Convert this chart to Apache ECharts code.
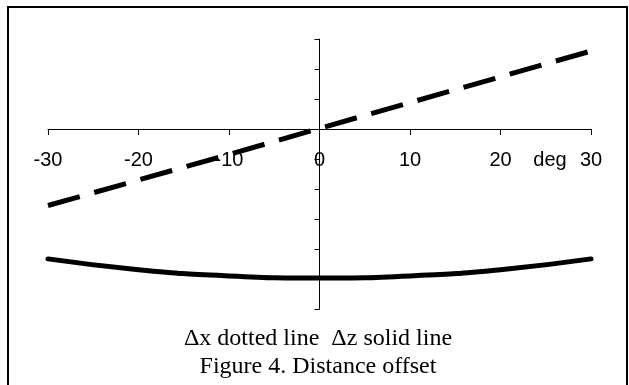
<!DOCTYPE html>
<html>
<head>
<meta charset="utf-8">
<style>
  html, body { margin: 0; padding: 0; background: #fff; }
  #chart { width: 629px; height: 385px; }
</style>
<script src="https://cdn.jsdelivr.net/npm/echarts@6/dist/echarts.min.js"></script>
</head>
<body>
<div id="chart"></div>
<script>
// angle in degrees
const angles = [-30, -20, -10, 0, 10, 20, 30];
// Δx (dashed) and Δz (solid)
const dxValues = [-2.55, -1.7, -0.85, 0.02, 0.88, 1.74, 2.6];
const dzValues = [-4.33, -4.69, -4.9, -4.97, -4.9, -4.69, -4.33];

const toPairs = (xs, ys) => xs.map((x, i) => [x, ys[i]]);

let myChart = echarts.init(document.getElementById('chart'));
myChart.setOption({
  animation: false,
  grid: { left: 48, right: 38, top: 39, bottom: 76 },
  xAxis: {
    type: 'value',
    position: 'bottom',
    // lift the axis up to y = 0 (grid is 270px tall, zero sits 180px above the bottom)
    offset: -180,
    min: -30, max: 30, interval: 10,
    axisLine: { onZero: false, lineStyle: { color: '#000', width: 1 } },
    axisTick: { show: true, length: 6, lineStyle: { color: '#000' } },
    axisLabel: {
      margin: 21,
      color: '#000',
      fontFamily: 'Liberation Sans, Arial, sans-serif',
      fontSize: 20,
      showMinLabel: true, showMaxLabel: true
    },
    splitLine: { show: false }
  },
  yAxis: {
    type: 'value',
    min: -6, max: 3, interval: 1,
    axisLine: { onZero: true, lineStyle: { color: '#000', width: 1 } },
    axisTick: { show: true, length: 5, lineStyle: { color: '#000' } },
    axisLabel: { show: false },
    splitLine: { show: false }
  },
  graphic: [
    { type: 'rect', shape: { x: 8, y: 7, width: 619, height: 400 },
      style: { fill: 'none', stroke: '#000', lineWidth: 2 }, z: 100 },
    { type: 'text', x: 550, y: 160, z: 100,
      style: { text: 'deg', font: '20px "Liberation Sans", Arial, sans-serif', fill: '#000',
               textAlign: 'center', textVerticalAlign: 'middle' } },
    { type: 'text', x: 318, y: 339, z: 100,
      style: { text: 'Δx dotted line  Δz solid line', font: '24px "Liberation Serif", "Times New Roman", serif',
               fill: '#000', textAlign: 'center', textVerticalAlign: 'middle' } },
    { type: 'text', x: 318, y: 367, z: 100,
      style: { text: 'Figure 4. Distance offset', font: '24px "Liberation Serif", "Times New Roman", serif',
               fill: '#000', textAlign: 'center', textVerticalAlign: 'middle' } }
  ],
  series: [
    {
      name: 'Δx',
      type: 'line',
      data: toPairs(angles, dxValues),
      showSymbol: false,
      symbol: 'none',
      z: 5,
      lineStyle: { color: '#000', width: 5, type: [33, 15], cap: 'butt' }
    },
    {
      name: 'Δz',
      type: 'line',
      data: toPairs(angles, dzValues),
      smooth: true,
      showSymbol: false,
      symbol: 'none',
      lineStyle: { color: '#000', width: 5, cap: 'round' }
    }
  ]
});
</script>
</body>
</html>
